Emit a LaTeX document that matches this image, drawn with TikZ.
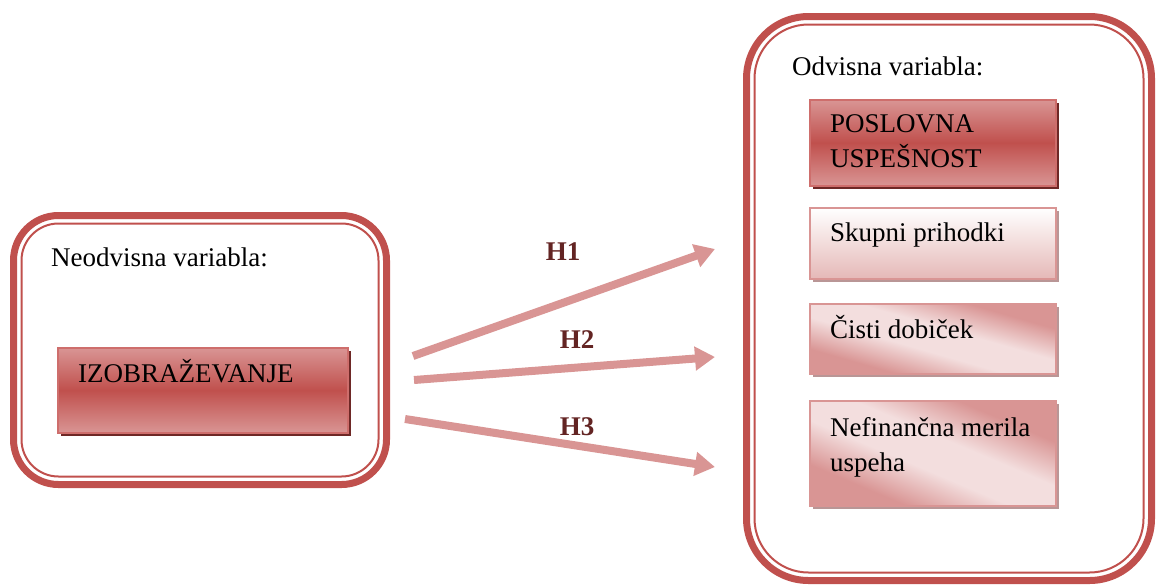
\documentclass[tikz,border=0pt]{standalone}
\usepackage{fontspec}
\setmainfont{Liberation Serif}
\usetikzlibrary{arrows.meta,shadows}

\definecolor{framered}{RGB}{192,80,77}
\definecolor{edgered}{RGB}{206,110,108}
\definecolor{pinkmid}{RGB}{217,149,148}
\definecolor{pinksoft}{RGB}{229,184,183}
\definecolor{pinkpale}{RGB}{243,222,222}
\definecolor{labelred}{RGB}{99,36,35}
\definecolor{shadowred}{RGB}{110,40,38}
\definecolor{shadowpink}{RGB}{185,150,150}

\pgfdeclareverticalshading{paleband}{100bp}{color(0bp)=(pinkmid); color(30bp)=(pinkmid);
    color(44bp)=(pinkpale); color(56bp)=(pinkpale); color(70bp)=(pinkmid); color(100bp)=(pinkmid)}

\tikzset{
    vartext/.style={font=\fontsize{27}{35}\selectfont, inner sep=0pt, align=left},
    hlabel/.style={font=\fontsize{27}{35}\selectfont\bfseries, text=labelred, inner sep=0pt},
    outerline/.style={draw=framered, line width=7pt, rectangle},
    innerline/.style={draw=framered, line width=2pt, rectangle},
    redbox/.style={rectangle, anchor=north west, draw=edgered, line width=1.5pt,
        top color=pinkmid, bottom color=pinkmid, middle color=framered,
        drop shadow={shadow xshift=3pt, shadow yshift=-3pt, fill=shadowred, opacity=1}},
    lightbox/.style={rectangle, anchor=north west, draw=pinkmid, line width=1.5pt,
        top color=white, bottom color=pinksoft,
        drop shadow={shadow xshift=3pt, shadow yshift=-3pt, fill=shadowpink, opacity=1}},
    stripebox/.style={rectangle, anchor=north west, draw=pinkmid, line width=1.5pt,
        shading=paleband, shading angle=#1,
        drop shadow={shadow xshift=3pt, shadow yshift=-3pt, fill=shadowpink, opacity=1}},
    hyparrow/.style={draw=pinkmid, line width=8pt, -{Triangle[length=20pt, width=23pt]}},
}

\begin{document}
\begin{tikzpicture}[x=1pt,y=-1pt]
    \useasboundingbox (0,0) rectangle (1156,584);

    % left frame
    \node[outerline, rounded corners=45pt, minimum width=373pt, minimum height=269pt] (indep) at (200,350) {};
    \node[innerline, rounded corners=37pt, minimum width=357pt, minimum height=253pt] (indepin) at (200,350) {};
    \node[vartext, anchor=base west] (indeptitle) at (51,266) {Neodvisna variabla:};
    \node[redbox, minimum width=290pt, minimum height=85pt] (izob) at (57,347) {};
    \node[vartext, anchor=base west] (izobtxt) at (78,382) {IZOBRAŽEVANJE};

    % right frame
    \node[outerline, rounded corners=62pt, minimum width=405pt, minimum height=564pt] (dep) at (949,298.5) {};
    \node[innerline, rounded corners=54pt, minimum width=389pt, minimum height=548pt] (depin) at (949,298.5) {};
    \node[vartext, anchor=base west] (deptitle) at (792,75) {Odvisna variabla:};

    \node[redbox, minimum width=246pt, minimum height=86pt] (posl) at (809,99) {};
    \node[vartext, anchor=north west] (posltxt) at (830,114) {POSLOVNA\\USPEŠNOST};
    \node[lightbox, minimum width=246pt, minimum height=71pt] (skup) at (809,207) {};
    \node[vartext, anchor=base west] (skuptxt) at (830,241) {Skupni prihodki};
    \node[stripebox=-16, minimum width=246pt, minimum height=70pt] (cist) at (809,303) {};
    \node[vartext, anchor=base west] (cisttxt) at (830,338) {Čisti dobiček};
    \node[stripebox=-23, minimum width=246pt, minimum height=105pt] (nefi) at (809,400) {};
    \node[vartext, anchor=north west] (nefitxt) at (830,417) {Nefinančna merila\\uspeha};

    % hypotheses
    \coordinate (h1s) at (413,356);
    \coordinate (h1e) at (715,249);
    \coordinate (h2s) at (414,380);
    \coordinate (h2e) at (715,357);
    \coordinate (h3s) at (405,419);
    \coordinate (h3e) at (715,467);
    \draw[hyparrow] (h1s) -- (h1e);
    \draw[hyparrow] (h2s) -- (h2e);
    \draw[hyparrow] (h3s) -- (h3e);
    \node[hlabel, anchor=base] (lab1) at (563,260) {H1};
    \node[hlabel, anchor=base] (lab2) at (577,348) {H2};
    \node[hlabel, anchor=base] (lab3) at (577,435) {H3};
\end{tikzpicture}
\end{document}
